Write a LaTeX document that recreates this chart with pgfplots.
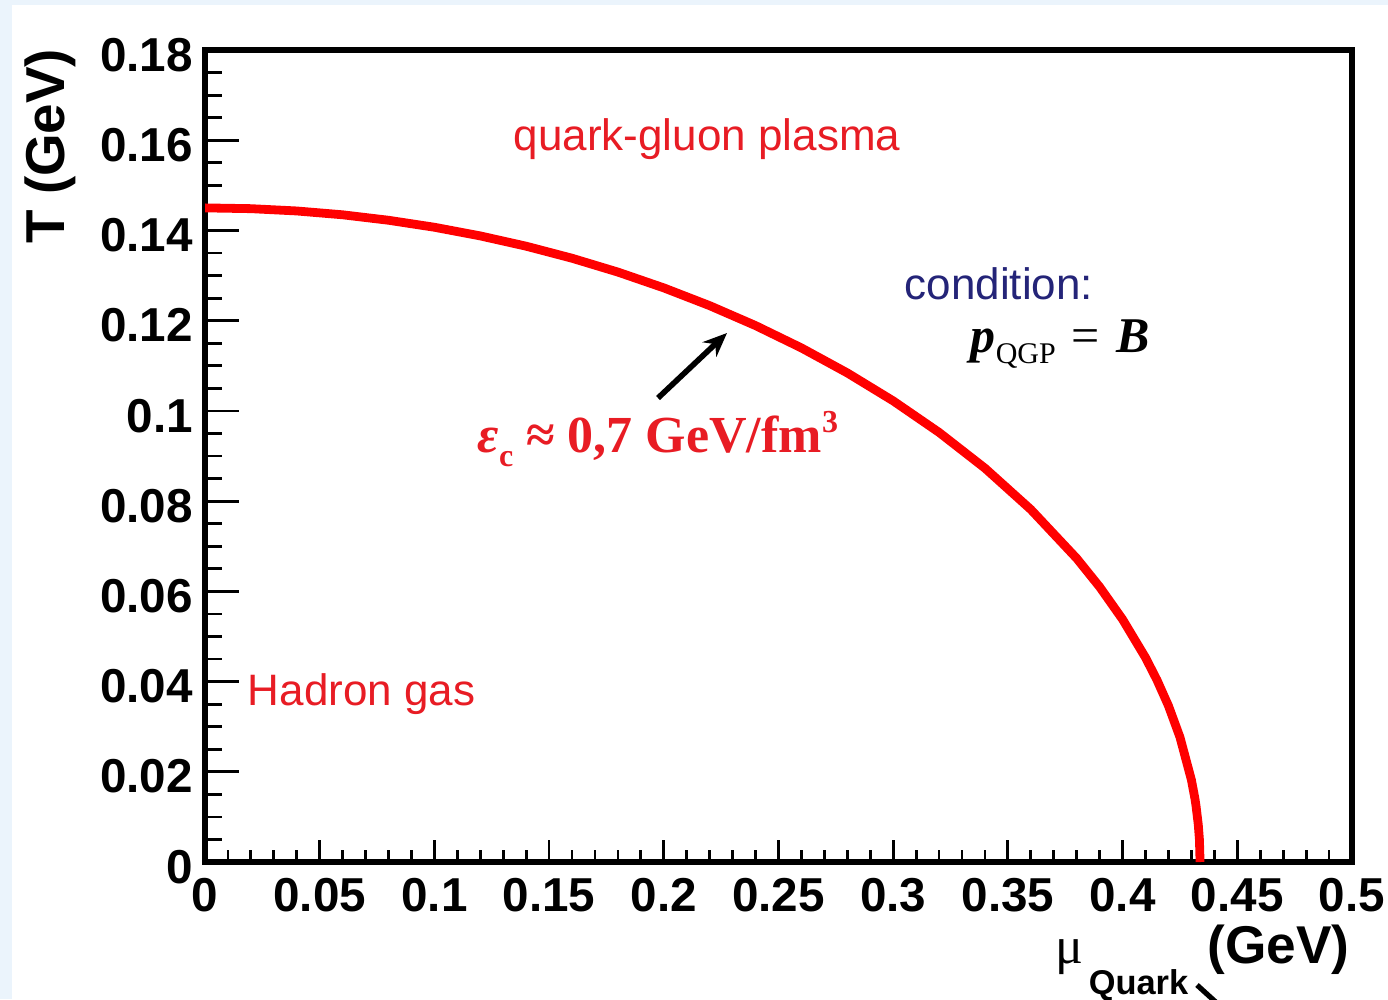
\documentclass[border=0pt]{standalone}
\usepackage{fontspec}
\setmainfont{Liberation Sans}
\newfontfamily\tnr{Liberation Serif}
\usepackage{pgfplots}
\pgfplotsset{compat=1.18}
\usetikzlibrary{arrows.meta}
\definecolor{bgblue}{RGB}{235,244,252}
\definecolor{rootred}{RGB}{255,0,0}
\definecolor{txtred}{RGB}{232,28,36}
\definecolor{navy}{RGB}{36,36,120}
\pgfplotstableread{
mu T
0.00 0.14500
0.02 0.14483
0.04 0.14432
0.06 0.14347
0.08 0.14226
0.10 0.14071
0.12 0.13879
0.14 0.13651
0.16 0.13384
0.18 0.13077
0.20 0.12727
0.22 0.12333
0.24 0.11891
0.26 0.11396
0.28 0.10842
0.30 0.10222
0.32 0.09523
0.34 0.08730
0.36 0.07814
0.38 0.06730
0.39 0.06098
0.40 0.05378
0.41 0.04530
0.415 0.04033
0.42 0.03462
0.425 0.02768
0.43 0.01819
0.4315 0.01413
0.432 0.01248
0.433 0.00825
0.4335 0.00490
0.43377 0.00000
}\curve
\begin{document}
\begin{tikzpicture}
\useasboundingbox (-51.25pt,-34.25pt) rectangle (295.75pt,215.5pt);
\clip (-51.25pt,-34.25pt) rectangle (295.75pt,215.5pt);
\begin{scope}[x=0.25pt,y=-0.25pt,xshift=-51.25pt,yshift=215.5pt]
 \fill[bgblue] (0,0) rectangle (1388,999);
 \fill[white] (12,5) rectangle (1388,999);
\end{scope}
\begin{axis}[
 scale only axis, width=286.75pt, height=203pt,
 xmin=0, xmax=0.5, ymin=0, ymax=0.18,
 xtick={0,0.05,0.1,0.15,0.2,0.25,0.3,0.35,0.4,0.45,0.5},
 ytick={0,0.02,0.04,0.06,0.08,0.1,0.12,0.14,0.16,0.18},
 minor x tick num=4, minor y tick num=3,
 xtick pos=bottom, ytick pos=left,
 tick align=inside,
 axis line style={line width=1.6pt},
 tick style={black, line width=0.7pt},
 x tick style={/pgfplots/major tick length=5.5pt, /pgfplots/minor tick length=3pt},
 y tick style={/pgfplots/major tick length=8.5pt, /pgfplots/minor tick length=4.25pt},
 ticklabel style={font=\fontsize{11.9}{12}\selectfont\bfseries},
 /pgf/number format/assume math mode=true,
 /pgf/number format/fixed, /pgf/number format/precision=2,
 xticklabel style={yshift=-0.5pt},
 yticklabel style={yshift=-1.2pt, xshift=0.5pt},
]
\addplot[rootred, line width=2.2pt, line join=round] table[x=mu, y=T] {\curve};
\end{axis}
\begin{scope}[x=0.25pt,y=-0.25pt,xshift=-51.25pt,yshift=215.5pt]
 \node[anchor=base west, inner sep=0, text=txtred, font=\fontsize{11}{13}\selectfont] at (513,150) {quark-gluon plasma};
 \node[anchor=base west, inner sep=0, text=txtred, font=\fontsize{11}{13}\selectfont] at (247,705) {Hadron gas};
 \node[anchor=base west, inner sep=0, text=navy, font=\fontsize{11}{13}\selectfont] at (904,299) {condition:};
 \node[anchor=base west, inner sep=0] at (970,352) {\tnr\fontsize{12.5}{14}\selectfont\textbf{\textit{p}}\raisebox{-0.5ex}{\fontsize{7.5}{8}\selectfont QGP}\hspace{4pt}=\hspace{4pt}\textbf{\textit{B}}};
 \node[anchor=base west, inner sep=0, text=txtred] at (477,452) {\tnr\bfseries\fontsize{13}{15}\selectfont\textit{ε}\raisebox{-0.6ex}{\fontsize{8}{9}\selectfont c} ≈ 0,7 GeV/fm\raisebox{0.8ex}{\fontsize{8}{9}\selectfont 3}};
 \draw[-{Stealth[length=6pt,width=5pt]}, line width=1.4pt] (658,398) -- (727,333);
 \node[rotate=90, anchor=east, inner sep=0, font=\fontsize{13.7}{15}\selectfont\bfseries] at (50,48) {T (GeV)};
 \node[anchor=base east, inner sep=0, font=\fontsize{13.3}{15}\selectfont\bfseries] at (1350,963) {(GeV)};
 \node[anchor=base west, inner sep=0, font=\fontsize{13}{15}\selectfont] at (1055,963) {\tnr μ};
 \node[anchor=base west, inner sep=0, font=\fontsize{8.6}{10}\selectfont\bfseries] at (1088,994) {Quark};
 \draw[line width=1.3pt] (1197,985) -- (1230,1015);
\end{scope}
\end{tikzpicture}
\end{document}
